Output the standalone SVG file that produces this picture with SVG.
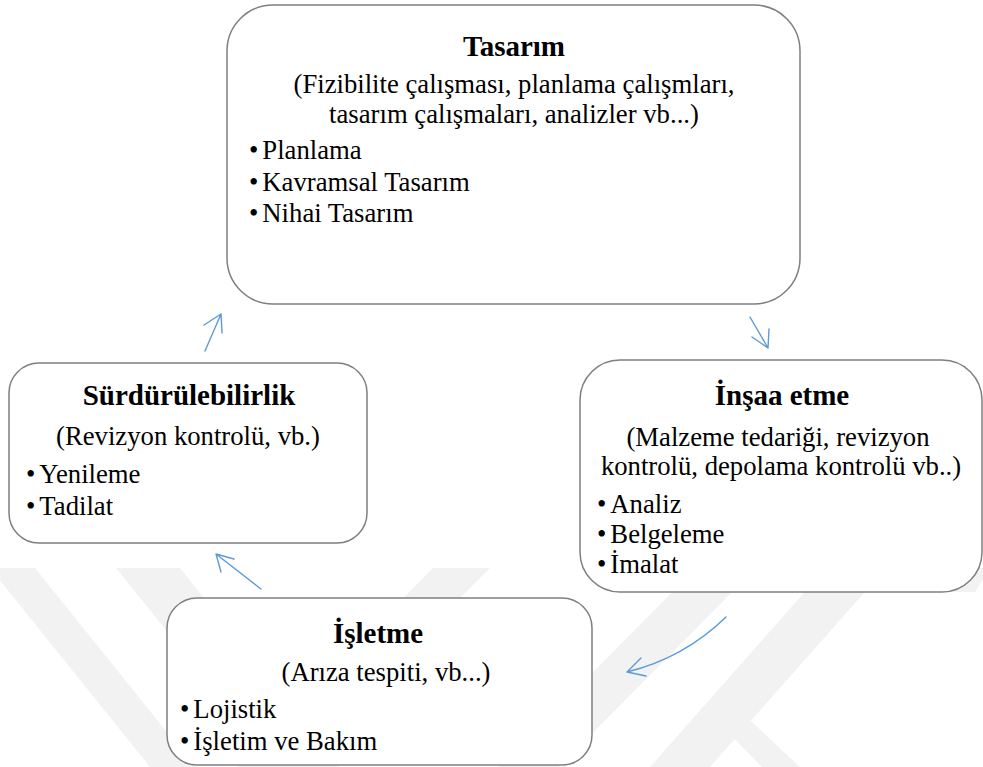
<svg xmlns="http://www.w3.org/2000/svg" width="983" height="767" viewBox="0 0 983 767">
  <style>
    .box { fill: #ffffff; stroke: #7f7f7f; stroke-width: 1.5; }
    .title { font-family: "Liberation Serif", "Times New Roman", serif; font-weight: bold; font-size: 29px; fill: #000; text-anchor: middle; }
    .sub { font-family: "Liberation Serif", "Times New Roman", serif; font-size: 26.7px; fill: #000; text-anchor: middle; }
    .item { font-family: "Liberation Serif", "Times New Roman", serif; font-size: 26.7px; fill: #000; }
    .wm { fill: #f2f2f2; }
    .arrow { fill: none; stroke: #5b9bd5; stroke-width: 1.4; stroke-linecap: round; stroke-linejoin: round; }
  </style>

  <rect width="983" height="767" fill="#ffffff"/>

  <!-- faint background mark -->
  <g id="watermark">
    <polygon class="wm" points="-10,568 35,568 195,767 150,767"/>
    <polygon class="wm" points="116,568 180,568 340,767 276,767"/>
    <polygon class="wm" points="433,568 490,568 293,767 236,767"/>
    <polygon class="wm" points="696,568 756,568 559,767 499,767"/>
    <polygon class="wm" points="826,568 886,568 710,767 650,767"/>
    <polygon class="wm" points="718,722 752,722 800,767 762,767"/>
    <polygon class="wm" points="950,568 990,568 975,592 940,592"/>
  </g>

  <g id="connectors">
    <!-- Sürdürülebilirlik -> Tasarım -->
    <path class="arrow" d="M205,351 L221,314 M204,325 L221,314 L222,333"/>
    <!-- Tasarım -> İnşaa etme -->
    <path class="arrow" d="M750,317 L768,348 M752,337 L768,348 L769,329"/>
    <!-- İnşaa etme -> İşletme -->
    <path class="arrow" d="M726,617 Q684,658 627,672 M641,658 L627,672 L646,676"/>
    <!-- İşletme -> Sürdürülebilirlik -->
    <path class="arrow" d="M261,589 L216,554 M234,559 L216,554 L221,572"/>
  </g>

  <g id="tasarim">
    <rect class="box" x="227" y="5" width="573" height="299" rx="46" ry="46"/>
    <text class="title" x="514" y="56">Tasarım</text>
    <text class="sub" x="514" y="93">(Fizibilite çalışması, planlama çalışmları,</text>
    <text class="sub" x="514" y="123">tasarım çalışmaları, analizler vb...)</text>
    <text class="item" x="249" y="159">•<tspan dx="4">Planlama</tspan></text>
    <text class="item" x="249" y="191">•<tspan dx="4">Kavramsal Tasarım</tspan></text>
    <text class="item" x="249" y="222">•<tspan dx="4">Nihai Tasarım</tspan></text>
  </g>

  <g id="insaa-etme">
    <rect class="box" x="580" y="360" width="402" height="232" rx="40" ry="40"/>
    <text class="title" x="782" y="405">İnşaa etme</text>
    <text class="sub" x="778" y="446">(Malzeme tedariği, revizyon</text>
    <text class="sub" x="781" y="475">kontrolü, depolama kontrolü vb..)</text>
    <text class="item" x="597" y="513">•<tspan dx="4">Analiz</tspan></text>
    <text class="item" x="597" y="543">•<tspan dx="4">Belgeleme</tspan></text>
    <text class="item" x="597" y="573">•<tspan dx="4">İmalat</tspan></text>
  </g>

  <g id="isletme">
    <rect class="box" x="167" y="598" width="425" height="167" rx="30" ry="30"/>
    <text class="title" x="378" y="643">İşletme</text>
    <text class="sub" x="386" y="681">(Arıza tespiti, vb...)</text>
    <text class="item" x="180" y="718">•<tspan dx="4">Lojistik</tspan></text>
    <text class="item" x="180" y="750">•<tspan dx="4">İşletim ve Bakım</tspan></text>
  </g>

  <g id="surdurulebilirlik">
    <rect class="box" x="9" y="363" width="358" height="180" rx="30" ry="30"/>
    <text class="title" x="189" y="405">Sürdürülebilirlik</text>
    <text class="sub" x="188" y="445">(Revizyon kontrolü, vb.)</text>
    <text class="item" x="26" y="483">•<tspan dx="4">Yenileme</tspan></text>
    <text class="item" x="26" y="515">•<tspan dx="4">Tadilat</tspan></text>
  </g>
</svg>
